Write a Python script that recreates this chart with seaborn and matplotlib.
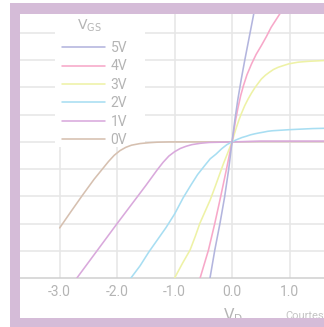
import matplotlib
matplotlib.use('Agg')
import matplotlib.pyplot as plt
from matplotlib.patches import Rectangle
import seaborn as sns

# Drain current vs drain voltage, one curve per gate voltage
v_5 = [-0.40, -0.30, -0.21, -0.13, -0.06, 0.0, 0.05, 0.10, 0.16, 0.22, 0.31, 0.40]
i_5 = [-5.2, -3.97, -2.99, -2.03, -1.03, 0.0, 0.82, 1.55, 2.3, 2.99, 3.97, 4.95]

v_4 = [-0.57, -0.41, -0.30, -0.20, -0.10, 0.0, 0.03, 0.06, 0.10, 0.15, 0.20, 0.26, 0.34,
       0.42, 0.51, 0.60, 0.68, 0.86]
i_4 = [-5.1, -3.97, -2.99, -2.03, -1.03, 0.0, 0.40, 0.78, 1.22, 1.70, 2.08, 2.47, 2.87,
       3.22, 3.54, 3.88, 4.21, 4.8]

v_3 = [-1.00, -0.86, -0.73, -0.64, -0.56, -0.47, -0.38, -0.29, -0.21, -0.15, -0.09, -0.04, 0.0,
       0.04, 0.08, 0.12, 0.16, 0.22, 0.28, 0.34, 0.40, 0.46, 0.51, 0.58, 0.65, 0.72, 0.80,
       0.90, 0.99, 1.15, 1.32, 1.60]
i_3 = [-5.0, -4.45, -3.97, -3.47, -2.99, -2.56, -2.13, -1.62, -1.15, -0.8, -0.48, -0.21, 0.0,
       0.29, 0.56, 0.81, 1.03, 1.33, 1.58, 1.80, 2.0, 2.17, 2.31, 2.45, 2.56, 2.66, 2.74,
       2.81, 2.87, 2.93, 2.96, 2.99]

v_2 = [-1.76, -1.60, -1.45, -1.30, -1.15, -1.00, -0.85, -0.72, -0.60, -0.48, -0.38, -0.28,
       -0.18, -0.09, 0.0, 0.05, 0.10, 0.17, 0.25, 0.32, 0.40, 0.47, 0.55, 0.62, 0.70, 0.85,
       1.00, 1.20, 1.40, 1.60]
i_2 = [-5.0, -4.55, -4.05, -3.6, -3.15, -2.65, -2.05, -1.6, -1.2, -0.88, -0.62, -0.45,
       -0.25, -0.1, 0.0, 0.055, 0.10, 0.16, 0.21, 0.26, 0.30, 0.33, 0.36, 0.39, 0.41, 0.43,
       0.45, 0.47, 0.49, 0.50]

v_1 = [-2.70, -2.35, -2.00, -1.75, -1.50, -1.30, -1.20, -1.10, -1.00, -0.90, -0.80, -0.70,
       -0.55, -0.40, -0.20, 0.0, 0.50, 1.00, 1.60]
i_1 = [-5.0, -4.0, -3.0, -2.3, -1.6, -1.02, -0.75, -0.52, -0.36, -0.24, -0.16, -0.10,
       -0.05, -0.02, -0.01, 0.0, 0.03, 0.03, 0.03]

v_0 = [-3.00, -2.80, -2.60, -2.40, -2.25, -2.15, -2.05, -1.95, -1.85, -1.75, -1.60, -1.45,
       -1.30, -1.10, -0.80, 0.0, 0.50, 1.00, 1.60]
i_0 = [-3.16, -2.55, -1.95, -1.37, -0.98, -0.72, -0.49, -0.32, -0.20, -0.12, -0.06, -0.03,
       -0.01, 0.0, 0.0, 0.0, 0.01, 0.01, 0.01]

labels = ['5V', '4V', '3V', '2V', '1V', '0V']
colors = ['#b3b5de', '#f7a8c9', '#eef2a6', '#a8def2', '#d9a9dc', '#d6c0b0']
x_ticks = [-3, -2, -1, 0, 1]
x_tick_labels = ['-3.0', '-2.0', '-1.0', '0.0', '1.0']

curves = [(v_5, i_5), (v_4, i_4), (v_3, i_3), (v_2, i_2), (v_1, i_1), (v_0, i_0)]

sns.set_theme(style='whitegrid', rc={'grid.color': '#e6e6e6', 'grid.linewidth': 1.1})
plt.rcParams['font.family'] = ['Liberation Sans Narrow', 'Roboto', 'DejaVu Sans']
plt.rcParams['mathtext.fontset'] = 'custom'
plt.rcParams['mathtext.rm'] = 'Liberation Sans Narrow'
plt.rcParams['mathtext.it'] = 'Liberation Sans Narrow'

txt = '#b4b4b4'
fig = plt.figure(figsize=(3.24, 3.27), dpi=100)
ax = fig.add_axes([20 / 324, 49 / 327, 304 / 324, 264 / 327])

# draw 0V first so 1V sits on top of it, like the original
handles = {}
for (v, i), lab, col in reversed(list(zip(curves, labels, colors))):
    sns.lineplot(x=v, y=i, ax=ax, color=col, linewidth=1.15, label=lab, zorder=3)
    handles[lab] = ax.get_lines()[-1]

ax.set_xlim(-3.69, 1.6)
ax.set_ylim(-5, 4.7)
ax.set_xticks(x_ticks)
ax.set_xticklabels(x_tick_labels, color=txt, fontsize=10)
ax.set_yticks(range(-4, 5))
ax.set_yticklabels([])
ax.tick_params(length=0, pad=5)
for s in ['top', 'right', 'left']:
    ax.spines[s].set_visible(False)
ax.spines['bottom'].set_color('#cfcfcf')
ax.spines['bottom'].set_linewidth(1.1)

ax.set_xlabel(r'$\mathrm{V}_{\mathrm{D}}$', color=txt, fontsize=11)
ax.xaxis.set_label_coords(0.70, -0.108)
ax.set_ylabel('')

# white patch behind the legend (grid hidden there, curves still drawn on top)
ax.add_patch(Rectangle((0.115, 0.496), 0.296, 0.51, transform=ax.transAxes,
                       facecolor='white', edgecolor='none', zorder=1.5, clip_on=False))
ax.text(0.188, 0.985, r'$\mathrm{V}_{\mathrm{GS}}$', transform=ax.transAxes,
        color=txt, fontsize=10, ha='left', va='top', zorder=4)

leg = ax.legend([handles[l] for l in labels], labels, loc='upper left',
                bbox_to_anchor=(0.138, 0.898), frameon=False,
                fontsize=10, handlelength=3.1, labelspacing=0.32,
                handletextpad=0.4, borderpad=0, borderaxespad=0)
for t in leg.get_texts():
    t.set_color(txt)

fig.text(285 / 324, 1 - 311 / 327, 'Courtesy', color='#c4c4c4', fontsize=8,
         ha='left', va='top', zorder=0.5)

# purple frame around the chart
frame = '#d5bcd8'
for x0, y0, w, h in [(9.5, 0, 10.5, 323.5), (9.5, 313, 314.5, 10.5), (9.5, 0, 314.5, 9)]:
    fig.patches.append(Rectangle((x0 / 324, y0 / 327), w / 324, h / 327,
                                 transform=fig.transFigure, facecolor=frame,
                                 edgecolor='none', zorder=5))

fig.savefig('out.png', dpi=100)
